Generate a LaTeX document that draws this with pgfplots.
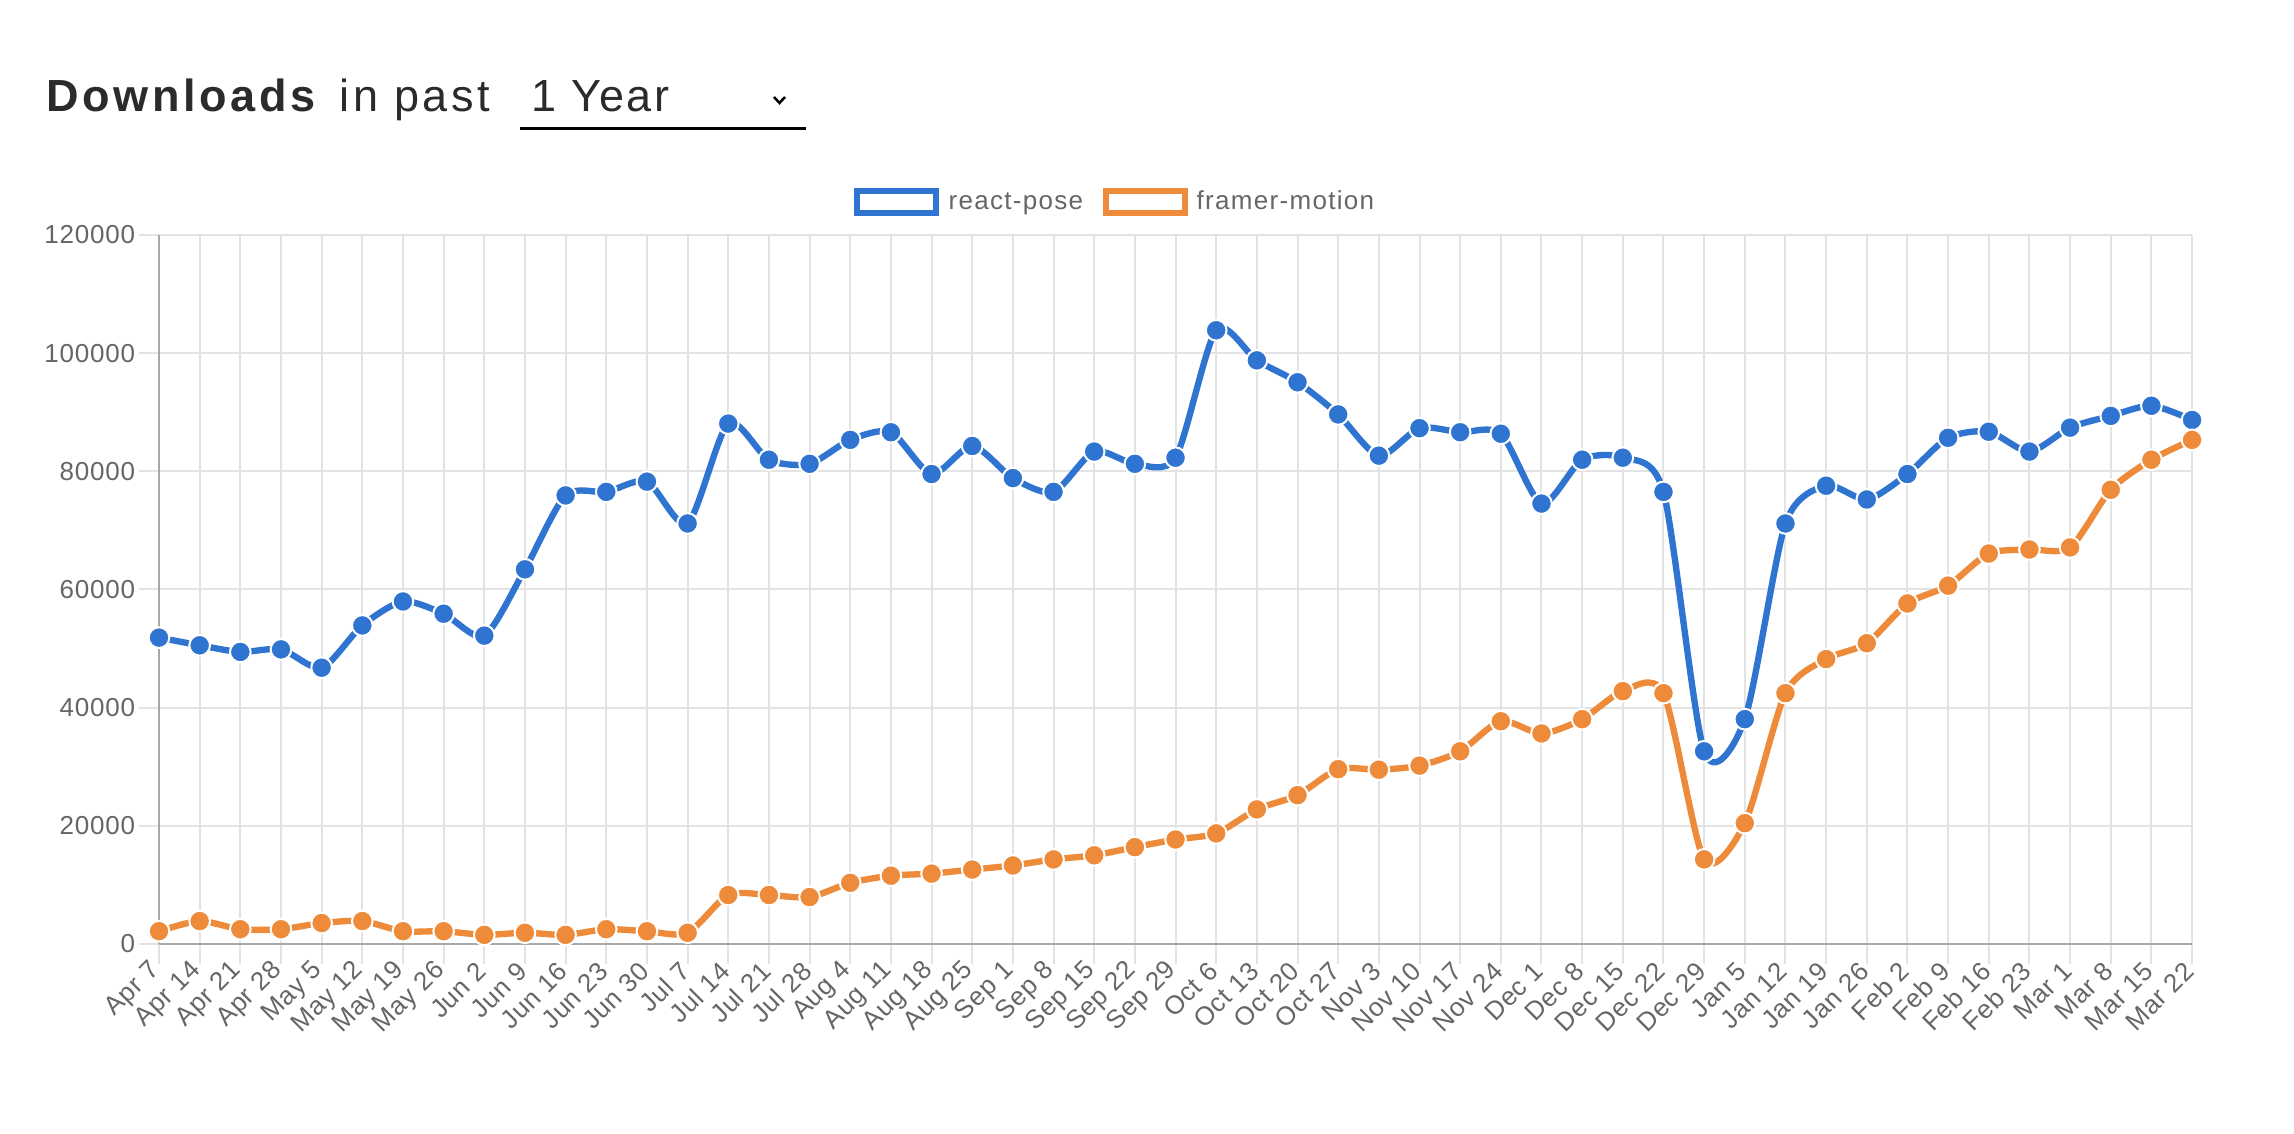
\documentclass[border=0pt]{standalone}
\usepackage{pgfplots}
\pgfplotsset{compat=1.18}
\usepackage{pgfplotstable}
\usepackage{fontspec}
\setmainfont{Liberation Sans}
\definecolor{rpblue}{HTML}{2F74D0}
\definecolor{fmorange}{HTML}{EE8B3A}
\definecolor{tickgray}{HTML}{666666}
\definecolor{gridgray}{HTML}{E3E3E3}
\definecolor{axisgray}{HTML}{A8A8A8}
\definecolor{titlegray}{HTML}{2B2B2B}

\pgfplotstableread{
x rp fm
0 51850 2160
1 50550 3880
2 49430 2500
3 49860 2500
4 46760 3540
5 53920 3880
6 57970 2160
7 55900 2160
8 52190 1550
9 63410 1900
10 75920 1550
11 76520 2500
12 78250 2160
13 71170 1900
14 88080 8280
15 81960 8280
16 81270 7940
17 85320 10350
18 86610 11560
19 79540 11910
20 84290 12600
21 78850 13290
22 76520 14320
23 83340 15010
24 81270 16390
25 82300 17690
26 103870 18720
27 98780 22780
28 95070 25190
29 89630 29590
30 82650 29500
31 87300 30190
32 86610 32610
33 86360 37700
34 74540 35630
35 81960 38050
36 82300 42790
37 76520 42450
38 32610 14320
39 38050 20450
40 71170 42450
41 77560 48220
42 75230 50900
43 79540 57630
44 85670 60650
45 86700 66080
46 83340 66770
47 87390 67120
48 89380 76870
49 91100 81960
50 88690 85320
}\datatable

\newcommand{\tickfont}{\fontsize{7.8bp}{9bp}\selectfont\addfontfeature{LetterSpace=3}}

\begin{document}
\begin{tikzpicture}
\begin{scope}[x=0.3bp,y=0.3bp]
\path[use as bounding box, fill=white] (0,0) rectangle (2294,1134);
\end{scope}
\begin{axis}[
  at={(47.7bp,57bp)}, anchor=south west, scale only axis,
  width=609.9bp, height=212.7bp,
  xmin=0, xmax=50, ymin=0, ymax=120000,
  xtick={0,...,50},
  xticklabels={Apr 7,Apr 14,Apr 21,Apr 28,May 5,May 12,May 19,May 26,Jun 2,Jun 9,Jun 16,Jun 23,Jun 30,Jul 7,Jul 14,Jul 21,Jul 28,Aug 4,Aug 11,Aug 18,Aug 25,Sep 1,Sep 8,Sep 15,Sep 22,Sep 29,Oct 6,Oct 13,Oct 20,Oct 27,Nov 3,Nov 10,Nov 17,Nov 24,Dec 1,Dec 8,Dec 15,Dec 22,Dec 29,Jan 5,Jan 12,Jan 19,Jan 26,Feb 2,Feb 9,Feb 16,Feb 23,Mar 1,Mar 8,Mar 15,Mar 22},
  ytick={0,20000,40000,60000,80000,100000,120000},
  yticklabels={0,20000,40000,60000,80000,100000,120000},
  scaled y ticks=false,
  yticklabel style={font=\tickfont, text=tickgray, inner sep=1bp},
  xticklabel style={rotate=45, anchor=east, font=\tickfont, text=tickgray, inner sep=1bp},
  grid=major,
  major grid style={gridgray, line width=0.6bp},
  axis x line*=bottom, axis y line*=left,
  axis line style={axisgray, line width=0.6bp},
  tick align=outside, major tick length=6bp,
  tick style={gridgray, line width=0.6bp},
  clip=false,
]
\addplot[rpblue, line width=1.9bp, smooth, tension=0.45, mark=*, mark size=3.1bp,
  mark options={fill=rpblue, draw=white, line width=0.6bp}] table[x=x, y=rp] {\datatable};
\addplot[fmorange, line width=1.9bp, smooth, tension=0.45, mark=*, mark size=3.1bp,
  mark options={fill=fmorange, draw=white, line width=0.6bp}] table[x=x, y=fm] {\datatable};
\end{axis}
\begin{scope}[x=0.3bp,y=0.3bp]
% title
\node[anchor=base west, inner sep=0, text=titlegray] at (46,1022)
  {\fontsize{13.5bp}{16bp}\selectfont\bfseries\addfontfeature{LetterSpace=8}Downloads};
\node[anchor=base west, inner sep=0, text=titlegray] at (339,1022)
  {\fontsize{13.5bp}{16bp}\selectfont\addfontfeature{LetterSpace=8}in past};
\node[anchor=base west, inner sep=0, text=titlegray] at (531,1022)
  {\fontsize{13.5bp}{16bp}\selectfont\addfontfeature{LetterSpace=5}1 Year};
\draw[black, line width=0.9bp] (520,1005) -- (806,1005);
\draw[black, line width=0.75bp] (774,1037) -- (779.5,1031) -- (785,1037);
% legend
\draw[rpblue, line width=1.8bp] (857,943) rectangle (936,921);
\node[anchor=base west, inner sep=0, text=tickgray] at (948,924)
  {\fontsize{7.8bp}{9bp}\selectfont\addfontfeature{LetterSpace=5}react-pose};
\draw[fmorange, line width=1.8bp] (1106,943) rectangle (1185,921);
\node[anchor=base west, inner sep=0, text=tickgray] at (1196,924)
  {\fontsize{7.8bp}{9bp}\selectfont\addfontfeature{LetterSpace=5}framer-motion};
\end{scope}
\end{tikzpicture}
\end{document}
